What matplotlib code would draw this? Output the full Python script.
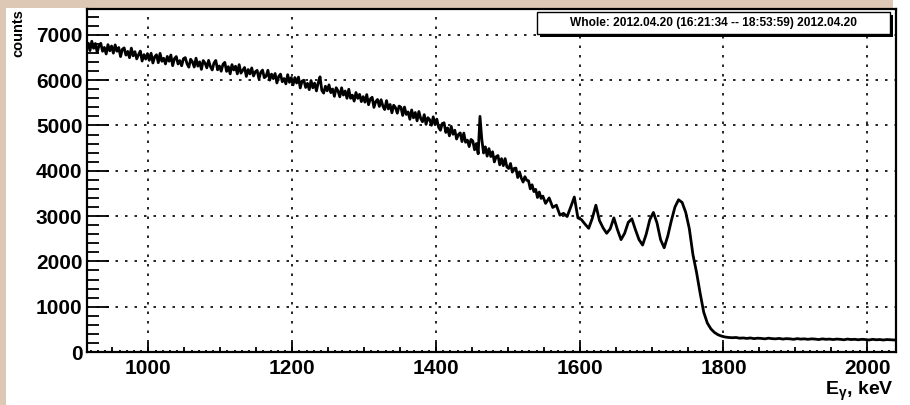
import numpy as np
import matplotlib
matplotlib.use('Agg')
import matplotlib.pyplot as plt
from matplotlib.patches import Rectangle
from matplotlib.ticker import MultipleLocator, NullFormatter

plt.rcParams['font.family'] = ['Liberation Sans', 'DejaVu Sans']
plt.rcParams['font.weight'] = 'bold'

# ---------------- data ----------------
e_min = 915          # keV
e_split = 1550       # keV, where the binning changes
e_max = 2040         # keV
fine_width = 2.5     # keV per bin below e_split
coarse_width = 5     # keV per bin above e_split

# counts, 2.5 keV bins, 915 - 1550 keV
counts_915_950 = [6808, 6653, 6858, 6703, 6808, 6613, 6758, 6813, 6638, 6723,
                  6578, 6783, 6648, 6753]
counts_950_1000 = [6596, 6777, 6638, 6719, 6520, 6681, 6712, 6553, 6634, 6495,
                   6706, 6537, 6628, 6469, 6560, 6641, 6422, 6563, 6464, 6585]
counts_1000_1050 = [6438, 6593, 6379, 6514, 6560, 6385, 6591, 6416, 6482, 6357,
                    6523, 6418, 6554, 6319, 6475, 6520, 6356, 6431, 6317, 6472]
counts_1050_1100 = [6497, 6362, 6286, 6461, 6405, 6290, 6484, 6309, 6403, 6238,
                    6432, 6377, 6271, 6436, 6300, 6225, 6379, 6434, 6228, 6313]
counts_1100_1150 = [6197, 6349, 6392, 6194, 6297, 6139, 6342, 6224, 6307, 6139,
                    6342, 6154, 6217, 6279, 6082, 6234, 6137, 6269, 6092, 6184]
counts_1150_1200 = [6216, 6028, 6170, 6222, 6054, 6086, 6218, 6000, 6132, 6034,
                    6146, 5938, 6080, 6132, 5964, 6036, 5918, 6120, 5952, 6054]
counts_1200_1250 = [5896, 6056, 5937, 6067, 5828, 5978, 5999, 5839, 5930, 5790,
                    5991, 5831, 5932, 5762, 5943, 6073, 5774, 5714, 5865, 5765]
counts_1250_1300 = [5895, 5724, 5804, 5643, 5833, 5762, 5632, 5831, 5671, 5760,
                    5600, 5799, 5599, 5668, 5538, 5727, 5597, 5686, 5526, 5635]
counts_1300_1350 = [5514, 5681, 5458, 5585, 5622, 5399, 5526, 5573, 5420, 5567,
                    5424, 5351, 5548, 5365, 5462, 5279, 5446, 5393, 5270, 5427]
counts_1350_1400 = [5403, 5220, 5406, 5243, 5299, 5136, 5342, 5169, 5285, 5102,
                    5308, 5155, 5081, 5238, 5024, 5171, 5127, 5004, 5190, 5017]
counts_1400_1450 = [5139, 4956, 4894, 5041, 5059, 4846, 4944, 4771, 4979, 4806,
                    4894, 4701, 4799, 4836, 4644, 4831, 4629, 4676, 4534, 4691]
counts_1450_1500 = [4659, 4464, 4600, 4375, 5200, 4700, 4392, 4527, 4323, 4488,
                    4314, 4419, 4195, 4310, 4336, 4131, 4267, 4112, 4268, 4083]
counts_1500_1550 = [4050, 4160, 3970, 4050, 4060, 3850, 3975, 3840, 3750, 3870,
                    3790, 3780, 3600, 3690, 3540, 3590, 3410, 3530, 3390, 3440]

# counts, 5 keV bins, 1550 - 2040 keV
counts_1550_1600 = [3280, 3400, 3190, 3240, 3020, 3060, 2990, 3200, 3420, 2960]
counts_1600_1700 = [2920, 2820, 2730, 2950, 3240, 2900, 2740, 2620, 2720, 2960,
                    2700, 2480, 2620, 2860, 2940, 2700, 2480, 2360, 2600, 2920]
counts_1700_1800 = [3080, 2850, 2480, 2300, 2560, 2900, 3200, 3360, 3300, 3080,
                    2720, 2150, 1760, 1300, 880, 640, 510, 430, 380, 350]
counts_1800_2040 = [330, 320, 315, 320, 305, 310, 300, 310, 295, 305,
                    300, 290, 305, 295, 290, 300, 285, 295, 290, 280,
                    295, 285, 290, 280, 290, 285, 275, 290, 280, 285,
                    275, 285, 280, 270, 285, 275, 280, 270, 280, 275,
                    265, 280, 270, 275, 265, 275, 270, 265]

counts_fine = (counts_915_950 + counts_950_1000 + counts_1000_1050 + counts_1050_1100
               + counts_1100_1150 + counts_1150_1200 + counts_1200_1250 + counts_1250_1300
               + counts_1300_1350 + counts_1350_1400 + counts_1400_1450 + counts_1450_1500
               + counts_1500_1550)
counts_coarse = counts_1550_1600 + counts_1600_1700 + counts_1700_1800 + counts_1800_2040

centers_fine = e_min + fine_width * (np.arange(len(counts_fine)) + 0.5)
centers_coarse = e_split + coarse_width * (np.arange(len(counts_coarse)) + 0.5)
energy = np.concatenate([centers_fine, centers_coarse])
counts = np.array(counts_fine + counts_coarse)

x_tick_values = [1000, 1200, 1400, 1600, 1800, 2000]
y_tick_values = [0, 1000, 2000, 3000, 4000, 5000, 6000, 7000]
y_max = 7570
title_text = "Whole: 2012.04.20 (16:21:34 -- 18:53:59) 2012.04.20"
y_label = "counts"
x_label = "E$_\\mathregular{γ}$, keV"

# ---------------- figure ----------------
W, H = 910, 405
fig = plt.figure(figsize=(W / 100, H / 100), dpi=100, facecolor='#dcc8b4')


def fx(px):
    return px / W


def fy(py):
    return 1 - py / H


# white pad
fig.patches.append(Rectangle((fx(6), 0), 1 - fx(6), fy(8), transform=fig.transFigure,
                             facecolor='white', edgecolor='none', zorder=-10))
fig.patches.append(Rectangle((fx(893), fy(8)), 1 - fx(893), 1 - fy(8), transform=fig.transFigure,
                             facecolor='white', edgecolor='none', zorder=-10))

ax = fig.add_axes([fx(87.3), fy(352), fx(896) - fx(87.3), fy(9) - fy(352)])
ax.set_facecolor('white')
ax.plot(energy, counts, color='black', lw=2.0, zorder=3)

ax.set_xlim(e_min, e_max)
ax.set_ylim(0, y_max)

ax.set_xticks(x_tick_values)
ax.set_yticks(y_tick_values)
ax.xaxis.set_minor_locator(MultipleLocator(10))
ax.yaxis.set_minor_locator(MultipleLocator(200))

ax.tick_params(axis='both', which='both', direction='in', top=False, right=False,
               labelsize=15, width=1.3)
ax.tick_params(axis='y', which='major', length=16, pad=3.5)
ax.tick_params(axis='y', which='minor', length=8.5)
ax.tick_params(axis='x', which='major', length=7.5, pad=5)
ax.tick_params(axis='x', which='minor', length=1.8)
for lab in ax.get_xticklabels() + ax.get_yticklabels():
    lab.set_fontweight('bold')

sec = ax.secondary_xaxis('bottom')
sec.spines['bottom'].set_visible(False)
sec.xaxis.set_major_locator(MultipleLocator(50))
sec.xaxis.set_major_formatter(NullFormatter())
sec.tick_params(axis='x', which='major', direction='in', length=3.8, width=1.3)
sec.tick_params(axis='x', which='minor', bottom=False)

for s in ax.spines.values():
    s.set_linewidth(1.6)
    s.set_zorder(4)

ax.grid(True, which='major', color='black', linestyle=(0, (1.5, 4.2)), linewidth=1.2)
ax.set_axisbelow(True)

# axis titles
fig.text(fx(18.5), fy(9), y_label, rotation=90, ha='center', va='top',
         fontsize=10.5, fontweight='bold')
fig.text(fx(894), fy(395), x_label, ha='right', va='baseline',
         fontsize=14, fontweight='bold')

# title box with shadow
bx0, bx1, by0, by1 = 537, 890, 12, 34
fig.patches.append(Rectangle((fx(bx0 + 2.5), fy(by1 + 2.5)), fx(bx1 - bx0), fy(by0) - fy(by1),
                             transform=fig.transFigure, facecolor='black', edgecolor='none', zorder=5))
fig.patches.append(Rectangle((fx(bx0), fy(by1)), fx(bx1 - bx0), fy(by0) - fy(by1),
                             transform=fig.transFigure, facecolor='white', edgecolor='black',
                             linewidth=1.0, zorder=6))
fig.text(fx((bx0 + bx1) / 2), fy((by0 + by1) / 2), title_text, ha='center', va='center',
         fontsize=8.6, fontweight='bold', zorder=7)

fig.savefig('out.png', dpi=100, facecolor=fig.get_facecolor())
